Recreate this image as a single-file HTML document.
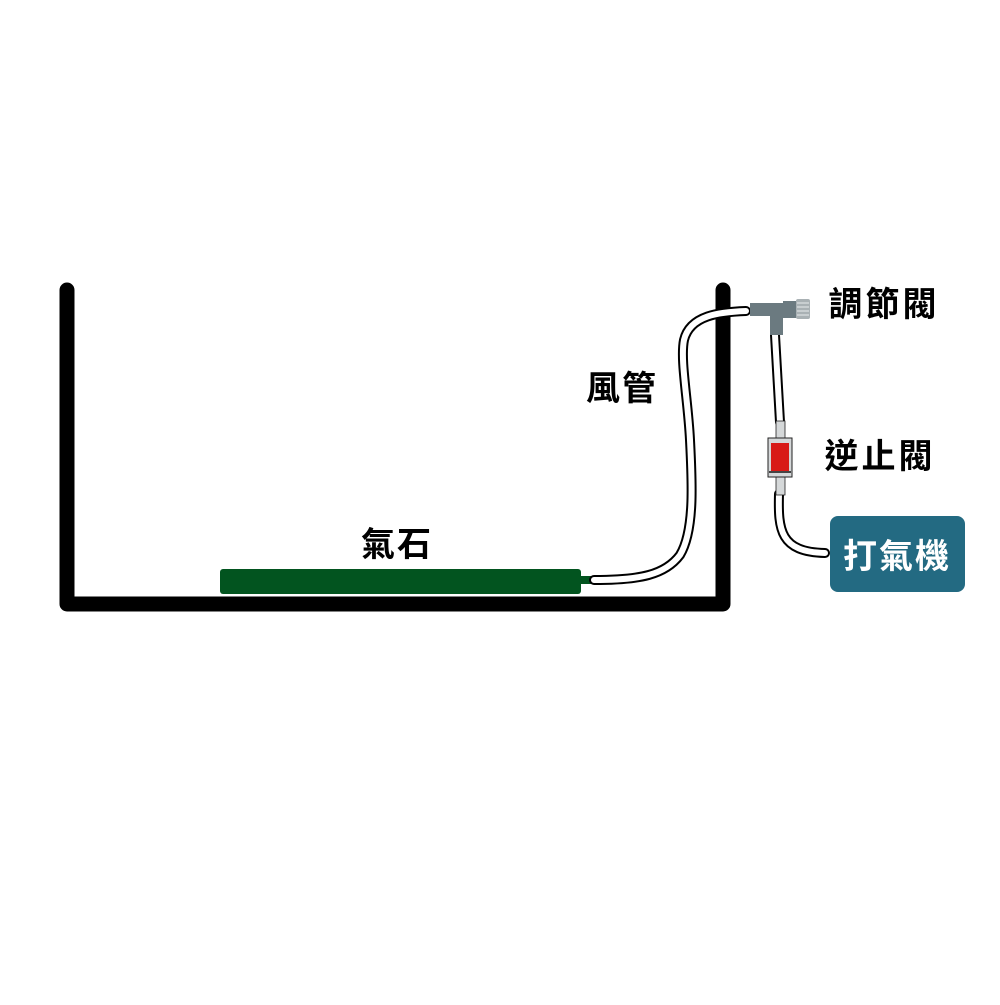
<!DOCTYPE html>
<html><head><meta charset="utf-8"><style>
html,body{margin:0;padding:0;background:#fff;}
svg text{font-family:"Liberation Sans","Noto Sans CJK TC",sans-serif;font-weight:bold;}
</style></head><body>
<svg width="1000" height="1000" viewBox="0 0 1000 1000" xmlns="http://www.w3.org/2000/svg">
<rect width="1000" height="1000" fill="#fff"/>
<!-- tank -->
<path d="M67,290 L67,604 L723,604 L723,290" fill="none" stroke="#000" stroke-width="15" stroke-linecap="round" stroke-linejoin="round"/>
<!-- air stone -->
<rect x="220" y="569" width="361" height="25" rx="3" fill="#02541f"/>
<rect x="579" y="576" width="14" height="8" fill="#02541f"/>
<!-- left tube -->
<path id="t1" d="M594,580 C640,580 665,575 680,555 C695,530 692,480 690,440 C688,400 680,360 684,340 C690,315 720,312 746,311" fill="none" stroke="#000" stroke-width="10" stroke-linecap="round"/>
<path d="M594,580 C640,580 665,575 680,555 C695,530 692,480 690,440 C688,400 680,360 684,340 C690,315 720,312 746,311" fill="none" stroke="#fff" stroke-width="6" stroke-linecap="round"/>
<!-- right tube upper -->
<path d="M775,335 L780,422" fill="none" stroke="#000" stroke-width="10" stroke-linecap="round"/>
<path d="M775,335 L780,422" fill="none" stroke="#fff" stroke-width="6" stroke-linecap="round"/>
<!-- right tube lower -->
<path d="M779,494 C778,530 780,552 825,553" fill="none" stroke="#000" stroke-width="10" stroke-linecap="round"/>
<path d="M779,494 C778,530 780,552 825,553" fill="none" stroke="#fff" stroke-width="6" stroke-linecap="round"/>
<!-- T fitting -->
<rect x="750" y="303" width="46" height="13" fill="#6b7a80"/>
<rect x="770" y="303" width="13" height="32" fill="#6b7a80"/>
<rect x="783" y="301" width="14" height="17" fill="#6b7a80"/>
<rect x="796" y="299" width="14" height="20" rx="2" fill="#a9b1b4"/>
<g stroke="#e8ecec" stroke-width="1">
<line x1="797" y1="303" x2="809" y2="303"/><line x1="797" y1="307" x2="809" y2="307"/><line x1="797" y1="311" x2="809" y2="311"/><line x1="797" y1="315" x2="809" y2="315"/>
</g>
<!-- check valve -->
<rect x="776" y="421" width="9" height="18" fill="#d5d8d9" stroke="#222" stroke-width="0.8"/>
<rect x="776" y="477" width="9" height="18" fill="#d5d8d9" stroke="#222" stroke-width="0.8"/>
<rect x="768" y="438" width="24" height="39" fill="#d5d8d9" stroke="#222" stroke-width="1"/>
<rect x="771" y="443" width="18" height="28" fill="#d81a17"/>
<rect x="769" y="471" width="22" height="2" fill="#444"/>
<!-- pump -->
<rect x="830" y="516" width="135" height="76" rx="8" fill="#236a82"/>
<text x="897" y="568" font-size="34" fill="#fff" text-anchor="middle" letter-spacing="2">打氣機</text>
<!-- labels -->
<text x="884" y="316" font-size="34" fill="#000" text-anchor="middle" letter-spacing="3">調節閥</text>
<text x="880" y="468" font-size="34" fill="#000" text-anchor="middle" letter-spacing="3">逆止閥</text>
<text x="622" y="400" font-size="34" fill="#000" text-anchor="middle" letter-spacing="2">風管</text>
<text x="397" y="556" font-size="34" fill="#000" text-anchor="middle" letter-spacing="2">氣石</text>
</svg>
</body></html>
